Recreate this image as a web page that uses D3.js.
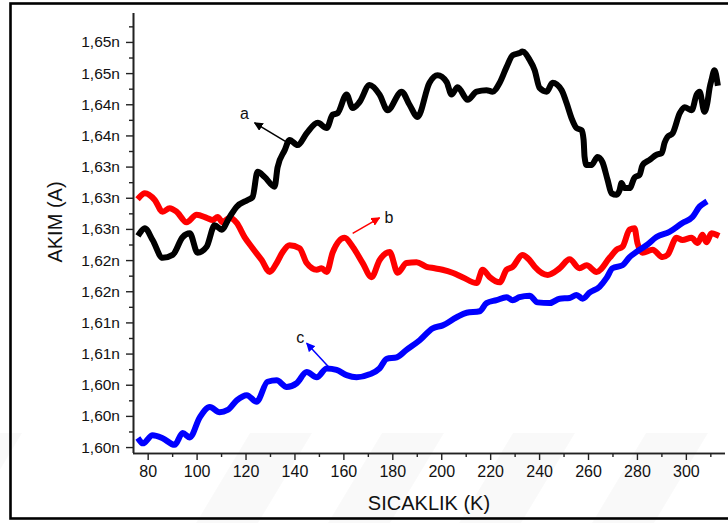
<!DOCTYPE html>
<html>
<head>
<meta charset="utf-8">
<script src="https://cdn.jsdelivr.net/npm/d3@7"></script>
<style>
  html, body { margin: 0; padding: 0; background: #fff; }
  svg { display: block; font-family: "Liberation Sans", Arial, sans-serif; }
</style>
</head>
<body>
<svg id="chart" width="728" height="523"></svg>
<script>
// Temperature (K) and current (nA) readings for the three samples
const tempA = [76.7, 78.8, 82.0, 86.1, 90.2, 94.3, 97.2, 100.4, 104.1, 107.4, 110.2, 113.5, 116.4, 120.9, 122.9, 124.9, 127.8, 131.9, 133.1, 136.0, 138.0, 141.3, 145.0, 149.5, 153.2, 155.6, 157.6, 161.3, 163.8, 166.6, 170.7, 174.8, 178.1, 183.8, 187.1, 190.3, 195.2, 198.5, 202.2, 204.2, 206.7, 210.8, 214.5, 218.5, 221.0, 223.9, 226.7, 229.2, 232.0, 233.2, 236.1, 238.2, 240.2, 243.1, 245.5, 249.2, 251.2, 253.3, 255.3, 257.4, 258.2, 258.6, 259.4, 261.4, 263.9, 265.9, 268.0, 269.6, 271.7, 272.9, 273.7, 274.9, 277.0, 279.0, 281.1, 282.3, 285.2, 288.0, 290.1, 291.3, 292.5, 294.6, 297.5, 299.5, 302.4, 304.4, 305.6, 307.6, 308.8, 309.7, 310.5, 311.7, 312.9];
const currentA = [1.6248, 1.6255, 1.6239, 1.6215, 1.6219, 1.6243, 1.6248, 1.6222, 1.6230, 1.6259, 1.6253, 1.6270, 1.6284, 1.6293, 1.6297, 1.6331, 1.6324, 1.6311, 1.6337, 1.6360, 1.6374, 1.6367, 1.6383, 1.6397, 1.6390, 1.6408, 1.6410, 1.6435, 1.6417, 1.6425, 1.6448, 1.6435, 1.6414, 1.6439, 1.6421, 1.6405, 1.6451, 1.6461, 1.6452, 1.6435, 1.6445, 1.6428, 1.6439, 1.6441, 1.6439, 1.6451, 1.6472, 1.6488, 1.6491, 1.6493, 1.6482, 1.6468, 1.6444, 1.6439, 1.6451, 1.6441, 1.6424, 1.6403, 1.6390, 1.6387, 1.6374, 1.6351, 1.6340, 1.6340, 1.6351, 1.6344, 1.6320, 1.6302, 1.6300, 1.6306, 1.6316, 1.6309, 1.6309, 1.6323, 1.6327, 1.6340, 1.6347, 1.6354, 1.6356, 1.6370, 1.6378, 1.6383, 1.6410, 1.6418, 1.6414, 1.6435, 1.6439, 1.6412, 1.6424, 1.6444, 1.6455, 1.6468, 1.6451];

const tempB = [76.7, 78.8, 82.9, 86.1, 89.0, 91.9, 95.9, 100.0, 104.1, 106.6, 108.6, 110.6, 113.5, 116.4, 119.6, 122.9, 126.6, 129.9, 132.7, 135.2, 138.0, 142.1, 145.0, 149.1, 151.1, 153.2, 155.6, 160.5, 163.8, 167.9, 171.5, 174.8, 178.9, 182.2, 185.8, 189.9, 194.0, 197.3, 200.5, 204.6, 208.7, 214.5, 216.9, 219.8, 223.9, 226.7, 229.2, 233.2, 236.1, 238.2, 243.5, 248.4, 252.5, 256.5, 259.4, 263.5, 268.8, 271.7, 274.1, 277.0, 279.0, 280.2, 282.3, 286.4, 290.5, 292.5, 296.2, 298.6, 302.3, 304.8, 306.8, 308.4, 310.5, 312.5];
const currentB = [1.6297, 1.6302, 1.6293, 1.6277, 1.6282, 1.6277, 1.6263, 1.6273, 1.6269, 1.6266, 1.6270, 1.6263, 1.6269, 1.6262, 1.6243, 1.6228, 1.6212, 1.6196, 1.6208, 1.6223, 1.6232, 1.6228, 1.6208, 1.6199, 1.6201, 1.6196, 1.6222, 1.6242, 1.6230, 1.6208, 1.6189, 1.6212, 1.6223, 1.6195, 1.6208, 1.6209, 1.6203, 1.6201, 1.6199, 1.6195, 1.6189, 1.6181, 1.6199, 1.6189, 1.6182, 1.6199, 1.6203, 1.6219, 1.6212, 1.6203, 1.6192, 1.6201, 1.6213, 1.6201, 1.6205, 1.6196, 1.6215, 1.6226, 1.6230, 1.6253, 1.6255, 1.6235, 1.6222, 1.6226, 1.6216, 1.6219, 1.6242, 1.6239, 1.6242, 1.6235, 1.6246, 1.6236, 1.6248, 1.6246];

const tempC = [76.7, 78.0, 82.0, 86.1, 91.0, 94.3, 97.2, 101.3, 105.4, 109.4, 112.7, 116.4, 120.5, 124.5, 129.0, 132.7, 136.8, 140.9, 145.0, 149.1, 153.2, 157.2, 161.3, 165.4, 170.7, 174.8, 177.7, 181.8, 185.8, 191.2, 196.5, 200.6, 206.3, 210.4, 215.7, 218.5, 222.6, 226.7, 229.2, 232.0, 236.1, 239.4, 244.3, 248.4, 252.5, 255.3, 257.8, 260.6, 264.7, 267.6, 270.0, 274.1, 277.0, 279.8, 283.9, 288.0, 293.3, 298.6, 302.7, 305.6, 307.6];
const currentC = [1.5969, 1.5965, 1.5976, 1.5972, 1.5963, 1.5979, 1.5973, 1.6000, 1.6014, 1.6007, 1.6010, 1.6023, 1.6030, 1.6021, 1.6048, 1.6050, 1.6041, 1.6046, 1.6061, 1.6054, 1.6066, 1.6064, 1.6057, 1.6054, 1.6058, 1.6066, 1.6079, 1.6081, 1.6091, 1.6104, 1.6120, 1.6124, 1.6135, 1.6141, 1.6143, 1.6154, 1.6158, 1.6162, 1.6158, 1.6162, 1.6164, 1.6155, 1.6154, 1.6160, 1.6161, 1.6165, 1.6160, 1.6168, 1.6176, 1.6188, 1.6201, 1.6205, 1.6216, 1.6223, 1.6232, 1.6243, 1.6250, 1.6262, 1.6270, 1.6284, 1.6289];

// Axis ticks
const xTicks = [80, 100, 120, 140, 160, 180, 200, 220, 240, 260, 280, 300];
const xMinorTicks = [90, 110, 130, 150, 170, 190, 210, 230, 250, 270, 290, 310];
const yTicks = [1.5960, 1.6002, 1.6044, 1.6086, 1.6128, 1.6170, 1.6212, 1.6254, 1.6296, 1.6338, 1.6380, 1.6422, 1.6464, 1.6506];
const yTickLabels = ["1,60n", "1,60n", "1,60n", "1,61n", "1,61n", "1,62n", "1,62n", "1,63n", "1,63n", "1,63n", "1,64n", "1,64n", "1,65n", "1,65n"];

// Curve labels: arrow tail (on curve), arrow head, and label position
const seriesLabels = ["a", "b", "c"];
const seriesColors = ["#000000", "#ff0000", "#0000ff"];
const arrowFrom = [[136.8, 1.6371], [163.8, 1.6248], [154.0, 1.6068]];
const arrowTo = [[123.7, 1.6397], [174.8, 1.6269], [145.0, 1.6100]];
const labelAt = [[119.6, 1.6410], [178.6, 1.6269], [142.4, 1.6107]];

const svg = d3.select("#chart");
const W = 728, H = 523;

// faint background stripes
const stripes = [[250, 433], [382, 433], [513, 433], [646, 433], [-40, 433]];
svg.append("g").selectAll("path").data(stripes).join("path")
  .attr("d", d => `M${d[0]},${d[1]} L${d[0] + 62},${d[1]} L${d[0] + 8},${H} L${d[0] - 54},${H} Z`)
  .attr("fill", "#000").attr("opacity", 0.022);

// outer frame
svg.append("rect")
  .attr("x", 10.5).attr("y", 3.5).attr("width", 740).attr("height", 515)
  .attr("fill", "none").attr("stroke", "#000").attr("stroke-width", 2.6);

const x = d3.scaleLinear().domain([74, 316]).range([133, 725]);
const y = d3.scaleLinear().domain([1.5952, 1.6545]).range([453, 13]);

const axisColor = "#222";

// X axis
const xAxis = svg.append("g").attr("transform", "translate(0,453)");
xAxis.call(d3.axisBottom(x).tickValues(xTicks).tickSize(7).tickPadding(6).tickFormat(d3.format("d")));
xAxis.append("g").call(d3.axisBottom(x).tickValues(xMinorTicks).tickSize(4).tickFormat(""));
xAxis.selectAll(".domain").attr("stroke", axisColor).attr("stroke-width", 1.6);
xAxis.selectAll(".tick line").attr("stroke", axisColor).attr("stroke-width", 1.4);
xAxis.selectAll(".tick text").attr("fill", "#111").style("font-size", "16px")
  .style("font-family", "Liberation Sans, Arial, sans-serif");

// Y axis
const yAxis = svg.append("g").attr("transform", "translate(133,0)");
yAxis.call(d3.axisLeft(y).tickValues(yTicks).tickSize(7).tickPadding(6)
  .tickFormat((d, i) => yTickLabels[i]));
const yMinor = yTicks.map((t, i) => i < yTicks.length - 1 ? (t + yTicks[i + 1]) / 2 : t + 0.0021);
yAxis.append("g").call(d3.axisLeft(y).tickValues(yMinor).tickSize(4).tickFormat(""));
yAxis.selectAll(".domain").attr("stroke", axisColor).attr("stroke-width", 1.6);
yAxis.selectAll(".tick line").attr("stroke", axisColor).attr("stroke-width", 1.4);
yAxis.selectAll(".tick text").attr("fill", "#111").style("font-size", "15.5px")
  .style("font-family", "Liberation Sans, Arial, sans-serif");
// plain axis lines without end caps
xAxis.selectAll(".domain").attr("d", `M133,0.5H725`);
yAxis.selectAll(".domain").attr("d", `M0.5,13V453`);

// axis titles
svg.append("text").attr("x", 429).attr("y", 510).attr("text-anchor", "middle")
  .style("font-size", "20px").attr("fill", "#111").text("SICAKLIK (K)");
svg.append("text").attr("transform", "translate(62,222) rotate(-90)").attr("text-anchor", "middle")
  .style("font-size", "20px").attr("fill", "#111").text("AKIM (A)");

// data curves
const line = d3.line().x(d => x(d[0])).y(d => y(d[1])).curve(d3.curveMonotoneX);
const series = [
  d3.zip(tempB, currentB),
  d3.zip(tempA, currentA),
  d3.zip(tempC, currentC)
];
const order = [1, 0, 2];
svg.append("g").selectAll("path").data(series).join("path")
  .attr("d", line)
  .attr("fill", "none")
  .attr("stroke", (d, i) => seriesColors[order[i]])
  .attr("stroke-width", 6)
  .attr("stroke-linejoin", "round")
  .attr("stroke-linecap", "square");

// arrows with labels
const defs = svg.append("defs");
seriesColors.forEach((c, i) => {
  defs.append("marker").attr("id", "arr" + i)
    .attr("viewBox", "0 0 10 10").attr("refX", 9).attr("refY", 5)
    .attr("markerWidth", 9).attr("markerHeight", 9).attr("markerUnits", "userSpaceOnUse")
    .attr("orient", "auto")
    .append("path").attr("d", "M0,0 L10,5 L0,10 Z").attr("fill", c);
});
const ann = svg.append("g");
seriesLabels.forEach((lab, i) => {
  ann.append("line")
    .attr("x1", x(arrowFrom[i][0])).attr("y1", y(arrowFrom[i][1]))
    .attr("x2", x(arrowTo[i][0])).attr("y2", y(arrowTo[i][1]))
    .attr("stroke", seriesColors[i]).attr("stroke-width", 1.5)
    .attr("marker-end", `url(#arr${i})`);
  ann.append("text")
    .attr("x", x(labelAt[i][0])).attr("y", y(labelAt[i][1]))
    .attr("text-anchor", "middle").attr("dominant-baseline", "central")
    .style("font-size", "16px").attr("fill", "#111").text(lab);
});
</script>
</body>
</html>
